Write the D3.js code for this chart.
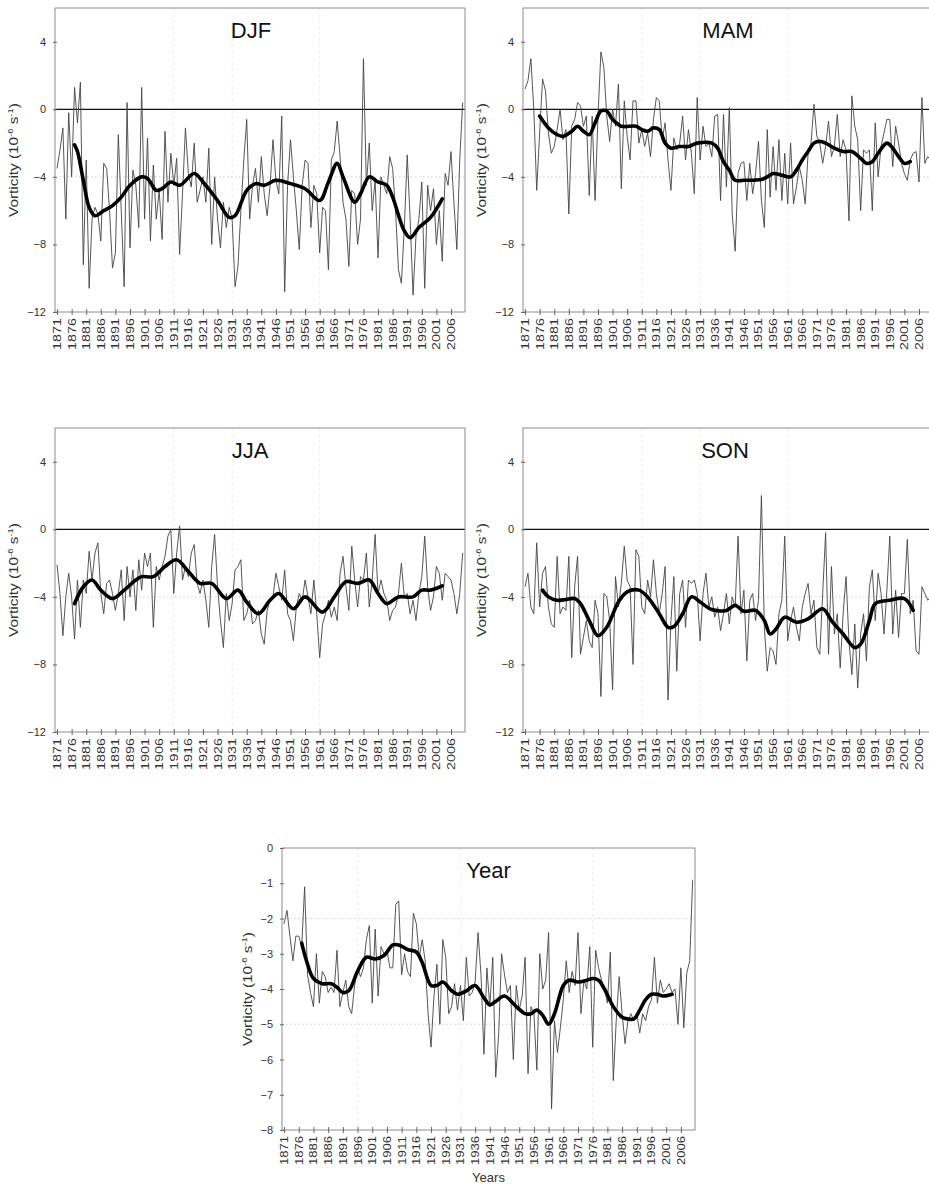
<!DOCTYPE html>
<html>
<head>
<meta charset="utf-8">
<script src="https://cdn.jsdelivr.net/npm/d3@7"></script>
<style>
body { margin: 0; background: #fff; }
svg { display: block; font-family: "Liberation Sans", Arial, sans-serif; }
</style>
</head>
<body>
<svg id="chart" width="929" height="1188"></svg>
<script>
"use strict";

var startYear = 1871;
var tickYears = d3.range(1871, 2007, 5);
var seasonTicks = [4, 0, -4, -8, -12];
var annualTicks = [0, -1, -2, -3, -4, -5, -6, -7, -8];

// annual values 1871-2010 (10^-6 s^-1)
var djf = [
    -3.5, -2.4, -1.1, -6.5, -0.2, -4.0, 1.3, -0.8, 1.6, -9.2,
    -3.0, -10.6, -6.5, -5.8, -6.2, -7.8, -3.2, -3.5, -6.0, -9.4,
    -8.5, -1.5, -6.0, -10.5, 0.4, -8.2, -3.6, -4.5, -7.0, 1.3,
    -6.5, -1.7, -7.8, -3.3, -6.5, -4.8, -7.7, -1.3, -5.5, -2.6,
    -4.5, -2.9, -8.6, -5.0, -1.1, -3.8, -4.6, -2.0, -5.5, -4.8,
    -4.0, -5.5, -2.3, -8.0, -4.0, -6.5, -8.2, -5.5, -7.0, -5.8,
    -6.5, -10.5, -9.3, -6.0, -3.0, -0.6, -6.5, -4.5, -3.5, -5.5,
    -2.8, -5.0, -6.3, -4.5, -1.8, -4.2, -5.0, -0.4, -10.8, -4.5,
    -1.8, -4.0, -6.0, -8.3, -4.5, -3.0, -3.2, -7.0, -4.5, -5.0,
    -8.5, -5.8, -6.0, -9.5, -3.0, -2.5, -0.7, -2.8, -5.5, -6.5,
    -9.3, -4.8, -5.0, -8.0, -6.5, 3.0, -4.5, -2.0, -6.0, -4.2,
    -8.8, -4.0, -4.5, -5.0, -2.8, -3.5, -6.0, -9.5, -10.3, -7.0,
    -2.7, -6.5, -11.0, -7.5, -6.5, -4.3, -10.6, -4.5, -6.0, -4.7,
    -8.0, -6.0, -9.0, -3.8, -4.5, -2.5, -5.5, -8.3, -3.0, 0.4
];
var mam = [
    1.2, 1.7, 3.0, 0.0, -4.8, -1.4, 1.8, 1.1, -1.4, -2.6,
    -2.2, -1.2, 0.0, -1.8, -1.2, -6.2, -1.0, -0.6, 0.4, 0.2,
    -1.0, -0.4, -5.1, -0.4, -5.4, -0.4, 3.4, 2.5, -0.4, -1.9,
    0.0, -1.0, 1.5, -4.7, 0.5, -1.6, -3.0, 0.5, 0.5, -2.0,
    -1.2, -2.2, -1.4, -2.8, -0.6, 0.7, 0.5, -1.8, -0.8, -3.0,
    -4.8, -1.7, -2.4, -2.0, -0.4, -3.0, -1.2, -2.6, -5.0, 0.7,
    -3.0, -1.0, -2.2, -2.0, -2.8, -0.4, -0.3, -5.4, -0.3, -4.6,
    0.1, -6.2, -8.4, -3.8, -3.2, -3.1, -5.4, -3.2, -5.0, -3.8,
    -1.9, -5.4, -7.0, -1.2, -5.2, -2.2, -4.8, -1.8, -5.4, -2.6,
    -5.6, -2.0, -5.6, -4.6, -3.4, -4.2, -5.6, -2.6, -2.0, 0.3,
    -1.6, -2.0, -3.2, -2.2, -0.7, -2.8, -2.2, -0.3, -2.8, -1.8,
    -2.4, -6.6, 0.8, -1.0, -1.8, -6.0, -2.4, -2.6, -2.4, -6.0,
    -0.8, -4.0, -2.2, -1.4, -0.6, -0.6, -3.4, -1.0, -2.0, -3.2,
    -3.8, -4.2, -3.0, -2.6, -2.5, -4.3, 0.7, -3.2, -2.8, -3.0
];
var jja = [
    -2.1, -3.8, -6.3, -4.0, -2.6, -4.0, -6.5, -3.0, -5.8, -3.0,
    -3.8, -1.3, -3.0, -1.4, -0.8, -3.8, -5.0, -3.2, -3.0, -3.8,
    -4.8, -3.8, -2.4, -5.4, -2.2, -4.0, -2.4, -4.8, -1.8, -3.6,
    -1.4, -2.2, -1.4, -5.8, -2.2, -3.0, -2.2, -1.6, -0.4, 0.0,
    -3.8, -1.4, 0.2, -3.0, -2.2, -2.8, -1.4, -0.9, -3.2, -3.8,
    -3.0, -4.2, -5.8, -2.2, -0.3, -3.4, -5.4, -7.0, -3.8, -5.4,
    -4.4, -2.4, -2.2, -1.8, -5.4, -5.0, -4.2, -5.6, -5.4, -4.8,
    -6.2, -6.8, -4.8, -4.2, -4.0, -2.6, -3.4, -4.2, -2.4, -5.0,
    -5.4, -6.6, -4.6, -3.8, -4.2, -3.0, -4.0, -5.0, -3.0, -5.0,
    -7.6, -5.6, -5.0, -4.2, -5.2, -4.6, -5.4, -2.6, -1.6, -3.4,
    -4.8, -1.0, -3.0, -4.6, -2.8, -3.0, -1.4, -4.6, -3.0, -0.3,
    -3.8, -3.0, -3.8, -4.2, -5.4, -4.8, -4.6, -3.8, -2.0, -4.0,
    -3.8, -5.0, -4.2, -5.4, -3.8, -2.8, -0.4, -3.4, -4.8, -4.0,
    -2.2, -2.6, -4.2, -2.6, -2.8, -3.0, -3.8, -5.0, -3.8, -1.4
];
var son = [
    -3.4, -2.6, -4.6, -5.0, -0.8, -4.6, -2.6, -2.2, -4.6, -5.6,
    -5.8, -1.6, -5.0, -4.6, -4.8, -1.6, -7.6, -3.4, -1.6, -7.4,
    -6.4, -5.4, -6.6, -7.0, -4.2, -5.0, -9.9, -3.8, -4.0, -5.4,
    -9.5, -2.8, -4.6, -3.2, -1.0, -3.0, -3.4, -8.0, -1.2, -1.6,
    -4.6, -5.0, -3.0, -4.0, -1.8, -3.8, -5.0, -3.8, -2.2, -10.1,
    -5.4, -2.8, -8.4, -3.8, -3.0, -5.8, -3.0, -3.2, -3.0, -3.8,
    -6.6, -3.8, -2.6, -4.6, -4.0, -5.2, -4.6, -6.0, -5.0, -3.8,
    -5.6, -4.0, -4.6, -0.4, -5.0, -3.6, -7.8, -4.2, -3.8, -5.4,
    -4.2, 2.0, -5.8, -8.4, -7.0, -7.2, -8.0, -5.0, -4.2, -0.4,
    -6.6, -5.4, -4.6, -5.8, -6.6, -4.6, -3.8, -3.2, -5.0, -4.2,
    -7.0, -7.4, -3.8, -0.2, -7.4, -2.2, -6.2, -5.0, -8.2, -5.0,
    -2.8, -6.6, -8.6, -5.6, -9.4, -6.2, -5.0, -7.8, -3.4, -2.4,
    -5.4, -2.6, -3.8, -6.2, -3.6, -0.4, -6.2, -3.6, -6.4, -3.8,
    -3.8, -0.6, -5.0, -4.2, -7.2, -7.4, -3.4, -3.8, -4.2, -4.0
];
var annual = [
    -2.15, -1.77, -2.5, -3.2, -2.5, -2.5, -2.8, -1.1, -3.6, -4.1,
    -4.5, -3.0, -4.4, -3.5, -3.65, -4.1, -3.95, -4.1, -2.9, -4.5,
    -4.1, -3.75, -4.5, -4.7, -3.9, -3.4, -3.65, -3.4, -2.6, -2.2,
    -4.4, -2.3, -4.2, -2.8, -3.0, -2.9, -3.4, -3.4, -1.6, -1.5,
    -3.6, -3.0, -3.5, -3.65, -1.85, -2.15, -3.1, -2.6, -3.2, -4.7,
    -5.65, -4.2, -3.3, -5.0, -2.6, -3.1, -4.7, -4.5, -3.85, -4.6,
    -3.9, -4.9, -3.1, -4.2, -4.1, -3.8, -2.4, -3.6, -5.85, -3.4,
    -4.5, -3.1, -6.5, -5.3, -3.0, -3.6, -4.1, -3.9, -6.0, -3.9,
    -4.6, -4.2, -3.1, -6.4, -4.5, -4.7, -6.3, -3.0, -4.0, -3.75,
    -2.4, -7.4, -4.9, -5.8, -5.1, -4.3, -3.2, -4.1, -3.5, -3.9,
    -2.4, -4.7, -3.75, -4.0, -2.8, -5.65, -2.9, -3.4, -3.75, -4.0,
    -4.4, -2.95, -6.6, -4.9, -3.65, -4.7, -5.55, -4.9, -4.7, -4.9,
    -4.7, -5.25, -4.7, -4.9, -4.5, -4.3, -3.1, -4.4, -3.75, -4.1,
    -4.0, -3.85, -4.1, -4.0, -5.0, -3.4, -5.1, -3.55, -3.2, -0.9
];

// smoothed curves, [year, value]
var djfSmooth = [
    [1877, -2.1], [1878, -2.5], [1880, -4.2], [1882, -5.8], [1884, -6.3], [1887, -6.0],
    [1890, -5.7], [1893, -5.2], [1896, -4.5], [1900, -4.0], [1902, -4.1], [1905, -4.8],
    [1907, -4.7], [1910, -4.3], [1913, -4.5], [1918, -3.8], [1921, -4.3], [1926, -5.4],
    [1930, -6.4], [1932, -6.3], [1936, -4.8], [1939, -4.4], [1942, -4.5], [1946, -4.2],
    [1951, -4.4], [1956, -4.7], [1961, -5.4], [1964, -4.3], [1967, -3.2], [1969, -4.0],
    [1973, -5.5], [1975, -5.0], [1978, -4.0], [1981, -4.3], [1984, -4.5], [1986, -5.2],
    [1990, -7.2], [1992, -7.6], [1995, -7.0], [1999, -6.4], [2003, -5.3]
];
var mamSmooth = [
    [1876, -0.4], [1879, -1.1], [1882, -1.5], [1884, -1.6], [1887, -1.3], [1889, -1.0],
    [1891, -1.3], [1893, -1.5], [1895, -0.8], [1897, -0.1], [1899, -0.1], [1901, -0.6],
    [1904, -1.0], [1909, -1.0], [1911, -1.2], [1913, -1.3], [1915, -1.1], [1917, -1.2],
    [1919, -2.0], [1921, -2.3], [1924, -2.2], [1927, -2.2], [1930, -2.0], [1935, -2.0],
    [1937, -2.3], [1939, -3.1], [1941, -3.6], [1943, -4.2], [1946, -4.2], [1952, -4.15],
    [1954, -4.0], [1956, -3.8], [1958, -3.85], [1962, -4.0], [1964, -3.6], [1966, -3.0],
    [1968, -2.5], [1970, -2.0], [1972, -1.9], [1974, -2.0], [1977, -2.3], [1980, -2.5],
    [1983, -2.5], [1986, -2.9], [1988, -3.2], [1990, -3.1], [1992, -2.6], [1995, -2.0],
    [1997, -2.3], [1999, -2.8], [2001, -3.2], [2003, -3.1]
];
var jjaSmooth = [
    [1877, -4.4], [1880, -3.4], [1883, -3.0], [1886, -3.6], [1890, -4.1], [1894, -3.6],
    [1898, -3.0], [1900, -2.8], [1904, -2.8], [1908, -2.2], [1912, -1.8], [1916, -2.5],
    [1920, -3.2], [1924, -3.2], [1929, -4.1], [1933, -3.6], [1936, -4.3], [1940, -5.0],
    [1944, -4.2], [1947, -3.8], [1952, -4.7], [1956, -4.0], [1962, -4.9], [1966, -4.0],
    [1970, -3.1], [1974, -3.2], [1978, -3.0], [1981, -3.8], [1984, -4.4], [1988, -4.0],
    [1993, -4.0], [1996, -3.6], [1999, -3.6], [2003, -3.35]
];
var sonSmooth = [
    [1877, -3.6], [1879, -4.0], [1882, -4.2], [1885, -4.15], [1888, -4.1], [1890, -4.4],
    [1893, -5.4], [1896, -6.3], [1899, -5.8], [1903, -4.3], [1906, -3.7], [1910, -3.6],
    [1913, -4.0], [1917, -5.0], [1920, -5.8], [1922, -5.75], [1925, -5.0], [1928, -4.0],
    [1931, -4.3], [1935, -4.75], [1940, -4.8], [1943, -4.5], [1946, -4.85], [1950, -4.8],
    [1953, -5.4], [1955, -6.2], [1957, -5.9], [1960, -5.2], [1964, -5.5], [1968, -5.3],
    [1973, -4.7], [1976, -5.4], [1980, -6.2], [1984, -7.0], [1986, -6.8], [1989, -5.4],
    [1991, -4.4], [1996, -4.2], [2001, -4.1], [2004, -4.8]
];
var annualSmooth = [
    [1877, -2.7], [1879, -3.3], [1881, -3.7], [1884, -3.85], [1887, -3.85], [1889, -3.95],
    [1891, -4.1], [1893, -4.05], [1896, -3.5], [1899, -3.1], [1902, -3.15], [1905, -3.05],
    [1908, -2.75], [1910, -2.75], [1913, -2.88], [1916, -2.95], [1918, -3.25], [1921, -3.9],
    [1923, -3.9], [1925, -3.8], [1928, -4.05], [1930, -4.15], [1933, -4.05], [1936, -3.9],
    [1939, -4.25], [1941, -4.45], [1943, -4.35], [1946, -4.2], [1950, -4.5], [1953, -4.7],
    [1955, -4.7], [1957, -4.6], [1959, -4.75], [1961, -5.0], [1963, -4.7], [1966, -3.9],
    [1968, -3.75], [1971, -3.8], [1974, -3.75], [1976, -3.7], [1978, -3.75], [1980, -4.0],
    [1983, -4.5], [1986, -4.8], [1988, -4.85], [1990, -4.85], [1992, -4.6], [1994, -4.3],
    [1996, -4.15], [1998, -4.15], [2000, -4.2], [2003, -4.15]
];

var xDomain = [1870.3, 2010.8];

var panels = [
    {title: 'DJF', values: djf, smooth: djfSmooth, left: 55, top: 8, titleDx: -9},
    {title: 'MAM', values: mam, smooth: mamSmooth, left: 523, top: 8, titleDx: 0},
    {title: 'JJA', values: jja, smooth: jjaSmooth, left: 55, top: 428, titleDx: -10},
    {title: 'SON', values: son, smooth: sonSmooth, left: 523, top: 428, titleDx: -3},
    {title: 'Year', values: annual, smooth: annualSmooth, left: 282, top: 848, titleDx: 0,
     width: 413, height: 282, domain: [-8, 0], ticks: annualTicks, zero: false,
     grid: [-2, -5], vgrid: [1896, 1931, 1976], labelDx: -30, xTitle: 'Years'}
];

function drawPanel(svg, p) {
    var width = p.width || 410,
        height = p.height || 304,
        bottom = p.top + height;
    var x = d3.scaleLinear().domain(xDomain).range([p.left, p.left + width]);
    var y = d3.scaleLinear().domain(p.domain || [-12, 6]).range([bottom, p.top]);
    var g = svg.append('g').attr('class', 'panel');

    g.selectAll('.vgrid').data(p.vgrid || [1911, 1931, 1961]).join('line')
        .attr('class', 'vgrid')
        .attr('x1', x).attr('x2', x)
        .attr('y1', p.top).attr('y2', bottom)
        .attr('stroke', '#ededed').attr('stroke-dasharray', '3,3');

    g.selectAll('.hgrid').data(p.grid || [-4]).join('line')
        .attr('class', 'hgrid')
        .attr('x1', p.left).attr('x2', p.left + width)
        .attr('y1', y).attr('y2', y)
        .attr('stroke', '#cccccc').attr('stroke-dasharray', '1.5,2.5');

    if (p.zero !== false) {
        g.append('line')
            .attr('x1', p.left).attr('x2', p.left + width)
            .attr('y1', y(0)).attr('y2', y(0))
            .attr('stroke', '#111').attr('stroke-width', 1.1);
    }

    var series = p.values.map(function(v, i) { return [startYear + i, v]; });

    g.append('path')
        .datum(series)
        .attr('fill', 'none')
        .attr('stroke', '#444')
        .attr('stroke-width', 0.9)
        .attr('d', d3.line().x(function(d) { return x(d[0]); }).y(function(d) { return y(d[1]); }));

    g.append('path')
        .datum(p.smooth)
        .attr('fill', 'none')
        .attr('stroke', '#000')
        .attr('stroke-width', 3.6)
        .attr('stroke-linejoin', 'round')
        .attr('stroke-linecap', 'round')
        .attr('d', d3.line()
            .curve(d3.curveCatmullRom.alpha(0.5))
            .x(function(d) { return x(d[0]); })
            .y(function(d) { return y(d[1]); }));

    g.append('rect')
        .attr('x', p.left).attr('y', p.top)
        .attr('width', width).attr('height', height)
        .attr('fill', 'none')
        .attr('stroke', '#8c8c8c');

    var xAxis = g.append('g')
        .attr('transform', 'translate(0,' + bottom + ')')
        .call(d3.axisBottom(x).tickValues(tickYears).tickSize(3).tickFormat(d3.format('d')));
    xAxis.attr('font-family', null).attr('font-size', 10);
    xAxis.select('.domain').remove();
    xAxis.selectAll('.tick line').attr('y1', -3).attr('stroke', '#666');
    xAxis.selectAll('.tick text')
        .attr('transform', 'rotate(-90)')
        .attr('text-anchor', 'end')
        .attr('x', -6).attr('y', 0).attr('dy', '0.35em')
        .attr('fill', '#333')
        .attr('textLength', p.xTitle ? 29 : 32)
        .attr('lengthAdjust', 'spacingAndGlyphs');

    var yAxis = g.append('g')
        .attr('transform', 'translate(' + p.left + ',0)')
        .call(d3.axisLeft(y).tickValues(p.ticks || seasonTicks).tickSize(2).tickPadding(7));
    yAxis.attr('font-family', null).attr('font-size', 11);
    yAxis.select('.domain').remove();
    yAxis.selectAll('.tick line').attr('x2', 2).attr('x1', -2).attr('stroke', '#666');
    yAxis.selectAll('.tick text').attr('fill', '#333');

    g.append('text')
        .attr('x', p.left + width / 2 + p.titleDx)
        .attr('y', p.top + 30)
        .attr('text-anchor', 'middle')
        .attr('font-size', 22)
        .attr('fill', '#111')
        .text(p.title);

    var label = g.append('text')
        .attr('transform', 'translate(' + (p.left + (p.labelDx || -37)) + ',' + (p.top + height / 2) + ') rotate(-90) scale(1.18,1)')
        .attr('text-anchor', 'middle')
        .attr('font-size', 13)
        .attr('fill', '#333');
    label.append('tspan').text('Vorticity (10');
    label.append('tspan').attr('dy', -5).attr('font-size', 8).text('-6');
    label.append('tspan').attr('dy', 5).text(' s');
    label.append('tspan').attr('dy', -5).attr('font-size', 8).text('-1');
    label.append('tspan').attr('dy', 5).text(')');

    if (p.xTitle) {
        g.append('text')
            .attr('x', p.left + width / 2)
            .attr('y', bottom + 52)
            .attr('text-anchor', 'middle')
            .attr('font-size', 13)
            .attr('fill', '#333')
            .text(p.xTitle);
    }
}

var svg = d3.select('#chart');
panels.forEach(function(p) { drawPanel(svg, p); });
</script>
</body>
</html>
